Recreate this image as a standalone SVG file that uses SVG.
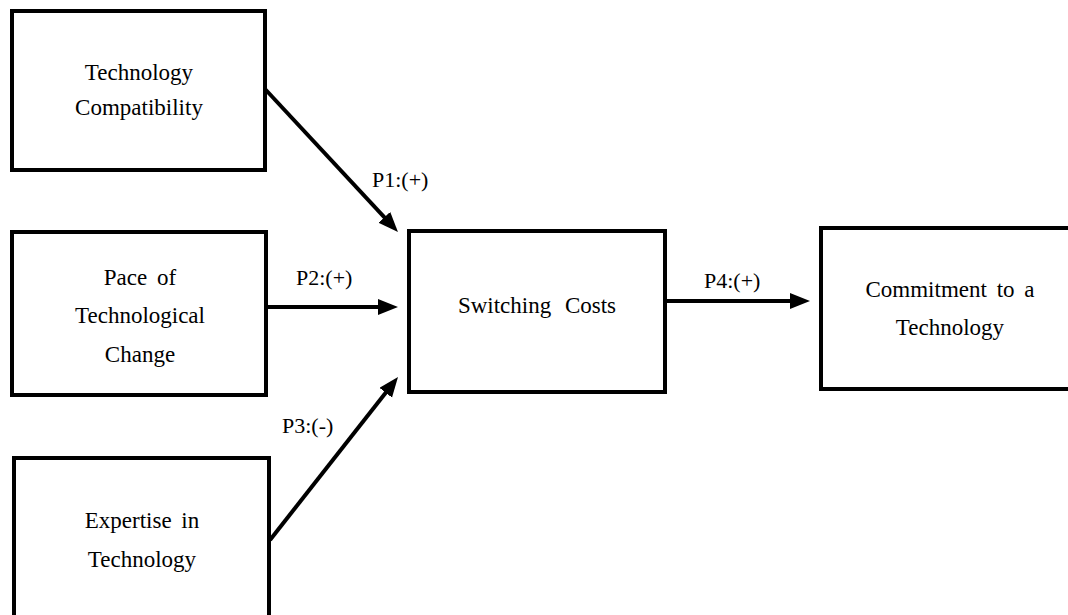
<svg xmlns="http://www.w3.org/2000/svg" width="1068" height="615" viewBox="0 0 1068 615">
<style>
.box{fill:#fff;stroke:#000;stroke-width:4}
.t{font-family:"Liberation Serif","Times New Roman",serif;font-size:23px;fill:#000;text-anchor:middle;word-spacing:4px}
.lbl{font-family:"Liberation Serif","Times New Roman",serif;font-size:22px;fill:#000}
.con{stroke:#000;stroke-width:4;fill:none;marker-end:url(#ah)}
</style>
<defs>
<marker id="ah" markerUnits="userSpaceOnUse" markerWidth="22" markerHeight="18" refX="8" refY="8" orient="auto">
<path d="M0,0 L20,8 L0,16 z" fill="#000"/>
</marker>
</defs>
<rect width="1068" height="615" fill="#fff"/>
<g id="n1"><rect class="box" x="12" y="11" width="253" height="159"/>
<text class="t" x="139" y="80">Technology</text>
<text class="t" x="139" y="115">Compatibility</text></g>
<g id="n2"><rect class="box" x="12" y="232" width="254" height="163"/>
<text class="t" x="140" y="285">Pace of</text>
<text class="t" x="140" y="323">Technological</text>
<text class="t" x="140" y="362">Change</text></g>
<g id="n3"><rect class="box" x="14" y="458" width="255" height="170"/>
<text class="t" x="142" y="528">Expertise in</text>
<text class="t" x="142" y="567">Technology</text></g>
<g id="n4"><rect class="box" x="409" y="231" width="256" height="161"/>
<text class="t" x="537" y="313" style="word-spacing:8px">Switching Costs</text></g>
<g id="n5"><rect class="box" x="821" y="228" width="260" height="161"/>
<text class="t" x="950" y="297">Commitment to a</text>
<text class="t" x="950" y="335">Technology</text></g>
<g id="connectors">
<line class="con" x1="265" y1="89" x2="389.8" y2="223.2"/>
<line class="con" x1="266" y1="307" x2="386" y2="307"/>
<line class="con" x1="270" y1="540" x2="390.6" y2="386.4"/>
<line class="con" x1="665" y1="301" x2="798" y2="301"/>
<text class="lbl" x="372" y="187">P1:(+)</text>
<text class="lbl" x="296" y="285">P2:(+)</text>
<text class="lbl" x="282" y="433">P3:(-)</text>
<text class="lbl" x="704" y="288">P4:(+)</text>
</g>
</svg>
